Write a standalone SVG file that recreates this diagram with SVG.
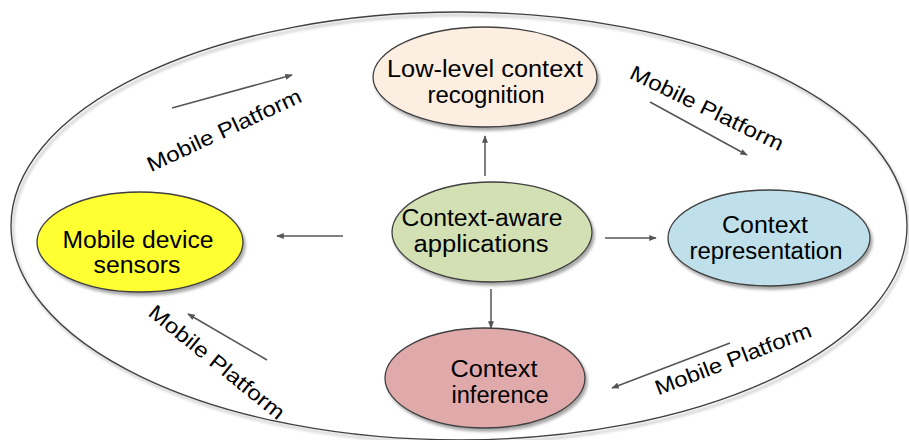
<svg xmlns="http://www.w3.org/2000/svg" width="909" height="440" viewBox="0 0 909 440">
<defs>
<filter id="sh" x="-10%" y="-10%" width="125%" height="130%">
<feDropShadow dx="2" dy="3" stdDeviation="1.5" flood-color="#000" flood-opacity="0.35"/>
</filter>
<marker id="ah" viewBox="0 0 10 10" refX="9" refY="5" markerWidth="5" markerHeight="5" orient="auto" markerUnits="strokeWidth">
<path d="M0,1 L10,5 L0,9 z" fill="#555"/>
</marker>
<style>
.node{stroke:#404040;stroke-width:1.3;filter:url(#sh)}
.t{font-family:"Liberation Sans",Arial,sans-serif;font-size:23px;fill:#000;text-anchor:middle}
.lbl{font-family:"Liberation Sans",Arial,sans-serif;font-size:21px;fill:#000;text-anchor:middle}
.ar{stroke:#555;stroke-width:1.5;fill:none;marker-end:url(#ah)}
</style>
</defs>
<rect width="909" height="440" fill="#fff"/>
<ellipse cx="459" cy="226" rx="448" ry="214" fill="none" stroke="#404040" stroke-width="1.3" filter="url(#sh)"/>

<g id="connectors">
<line class="ar" x1="485" y1="176" x2="485" y2="136"/>
<line class="ar" x1="343" y1="236" x2="277" y2="236"/>
<line class="ar" x1="605" y1="238" x2="656" y2="238"/>
<line class="ar" x1="491" y1="289" x2="491" y2="328"/>
<line class="ar" x1="172" y1="108" x2="292" y2="75"/>
<line class="ar" x1="650" y1="102" x2="747" y2="155"/>
<line class="ar" x1="267" y1="360" x2="188" y2="314"/>
<line class="ar" x1="730" y1="343" x2="612" y2="388"/>
</g>

<g id="labels">
<text class="lbl" transform="translate(224,130) rotate(-25)" dy="0.35em" textLength="168" lengthAdjust="spacingAndGlyphs">Mobile Platform</text>
<text class="lbl" transform="translate(707,108) rotate(26)" dy="0.35em" textLength="168" lengthAdjust="spacingAndGlyphs">Mobile Platform</text>
<text class="lbl" transform="translate(217,362) rotate(39)" dy="0.35em" textLength="168" lengthAdjust="spacingAndGlyphs">Mobile Platform</text>
<text class="lbl" transform="translate(733,359) rotate(-21)" dy="0.35em" textLength="166" lengthAdjust="spacingAndGlyphs">Mobile Platform</text>
</g>

<g id="low-level">
<ellipse class="node" cx="485" cy="77" rx="112" ry="50" fill="#fdeee2"/>
<text class="t" x="485" y="77" textLength="196" lengthAdjust="spacingAndGlyphs">Low-level context</text>
<text class="t" x="486" y="103" textLength="117" lengthAdjust="spacingAndGlyphs">recognition</text>
</g>

<g id="context-aware">
<ellipse class="node" cx="492" cy="232" rx="100" ry="50" fill="#d3e0b3"/>
<text class="t" x="482" y="226" textLength="161" lengthAdjust="spacingAndGlyphs">Context-aware</text>
<text class="t" x="481" y="252" textLength="135" lengthAdjust="spacingAndGlyphs">applications</text>
</g>

<g id="mobile-sensors">
<ellipse class="node" cx="140" cy="242" rx="103" ry="50" fill="#ffff33"/>
<text class="t" x="138" y="248" textLength="151" lengthAdjust="spacingAndGlyphs">Mobile device</text>
<text class="t" x="137" y="273" textLength="87" lengthAdjust="spacingAndGlyphs">sensors</text>
</g>

<g id="context-representation">
<ellipse class="node" cx="769" cy="238" rx="101" ry="48" fill="#bfe0ea"/>
<text class="t" x="765" y="233" textLength="86" lengthAdjust="spacingAndGlyphs">Context</text>
<text class="t" x="766" y="259" textLength="153" lengthAdjust="spacingAndGlyphs">representation</text>
</g>

<g id="context-inference">
<ellipse class="node" cx="485" cy="378" rx="100" ry="50" fill="#e1aaaa"/>
<text class="t" x="494" y="377" textLength="87" lengthAdjust="spacingAndGlyphs">Context</text>
<text class="t" x="500" y="403" textLength="97" lengthAdjust="spacingAndGlyphs">inference</text>
</g>
</svg>
